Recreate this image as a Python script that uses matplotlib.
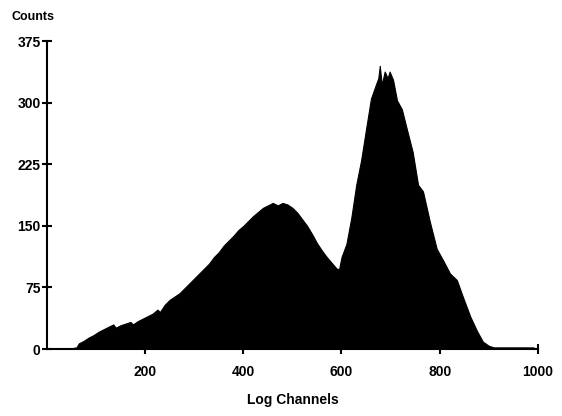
import matplotlib
matplotlib.use("Agg")
import matplotlib.pyplot as plt
import numpy as np

# envelope of the histogram
channels = [0, 50, 60, 65, 75, 85, 95, 105, 115, 125, 135, 140, 150, 160, 170, 175,
            185, 195, 205, 215, 225, 230, 240, 250, 260, 270, 280, 290, 300, 310,
            320, 330, 340, 350, 360, 370, 380, 390, 400, 410, 420, 430, 440, 450,
            460, 470, 480, 490, 500, 510, 520, 530, 540, 550, 560, 570, 580, 590,
            595, 600, 610, 620, 630, 640, 650, 660, 670, 675, 678, 682, 688, 694,
            698, 705, 713, 723, 733, 745, 756, 766, 780, 794, 807, 821, 835, 847,
            862, 876, 888, 900, 910, 990, 1000]
counts = [0, 1, 2, 7, 10, 14, 17, 21, 24, 27, 30, 26, 29, 31, 33, 30,
          34, 37, 40, 43, 48, 45, 54, 60, 64, 68, 74, 80, 86, 92,
          98, 104, 112, 118, 126, 132, 138, 145, 150, 156, 162, 167, 172, 175,
          178, 175, 178, 176, 172, 166, 158, 150, 140, 129, 120, 112, 105, 98,
          97, 112, 128, 160, 200, 230, 268, 305, 322, 330, 345, 322, 338, 330,
          338, 328, 303, 292, 268, 240, 200, 192, 155, 122, 108, 92, 84, 64,
          40, 22, 9, 4, 2, 2, 0]

xticks = [200, 400, 600, 800, 1000]
yticks = [0, 75, 150, 225, 300, 375]

plt.rcParams['font.family'] = ['Liberation Sans', 'DejaVu Sans']
plt.rcParams['font.weight'] = 'bold'

fig = plt.figure(figsize=(5.62, 4.16), dpi=100)
ax = fig.add_axes([0.0836, 0.161, 0.957 - 0.0836, 0.901 - 0.161])

ax.fill_between(channels, counts, 0, color="black", linewidth=0.8, edgecolor="black")

ax.set_xlim(0, 1000)
ax.set_ylim(0, 375)
ax.set_xticks(xticks)
ax.set_yticks(yticks)
ax.set_xticklabels([str(v) for v in xticks], fontsize=10, fontweight="bold")
ax.set_yticklabels([str(v) for v in yticks], fontsize=10, fontweight="bold")

for s in ["top", "right"]:
    ax.spines[s].set_visible(False)
for s in ["left", "bottom"]:
    ax.spines[s].set_linewidth(1.5)
    ax.spines[s].set_color("black")

ax.tick_params(axis="x", direction="inout", length=7, width=1.5, pad=8)
ax.tick_params(axis="y", direction="inout", length=7, width=1.5, pad=1)

ax.set_xlabel("Log Channels", fontsize=10, fontweight="bold", labelpad=10)
fig.text(0.021, 0.958, "Counts", fontsize=9, fontweight="bold", va="center", ha="left")

fig.savefig("out.png", dpi=100)
